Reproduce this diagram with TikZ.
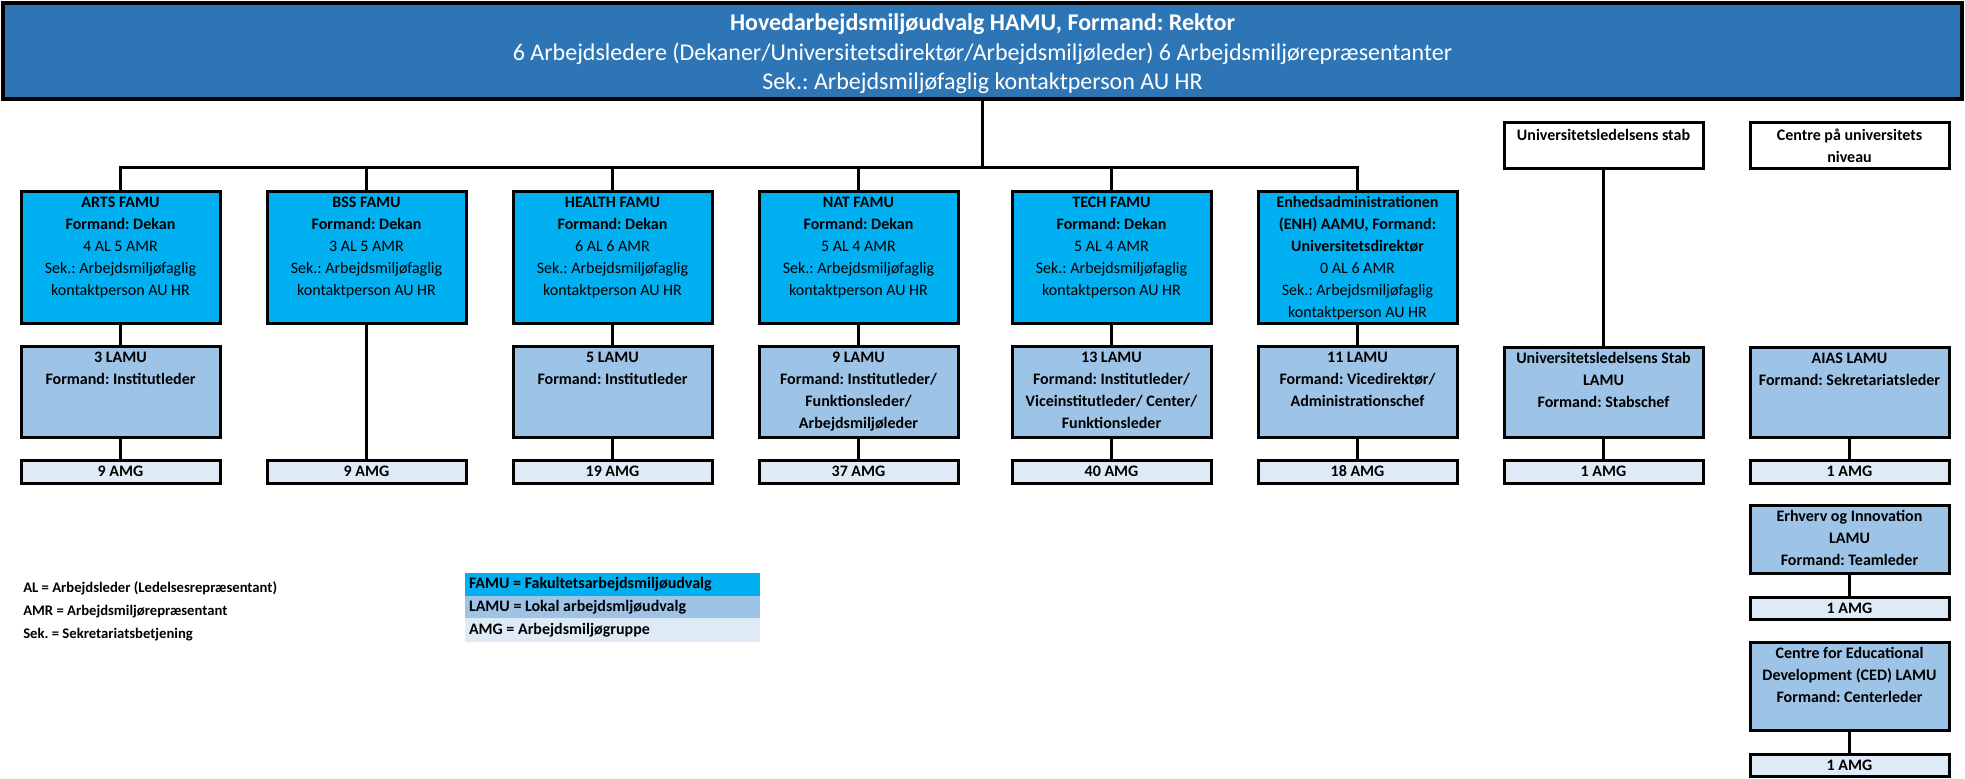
\documentclass[tikz,border=0pt]{standalone}
\usepackage{fontspec}
\setmainfont{Carlito}
\frenchspacing
\usetikzlibrary{fit,positioning,calc}
\definecolor{hamublue}{RGB}{46,117,182}
\definecolor{famublue}{RGB}{0,176,240}
\definecolor{lamublue}{RGB}{157,195,230}
\definecolor{amgblue}{RGB}{222,235,247}

\begin{document}
\begin{tikzpicture}[x=0.75pt,y=-0.75pt,
    box/.style={inner sep=0pt,draw,line width=2.25pt},
    famu/.style={box,fill=famublue}, lamu/.style={box,fill=lamublue},
    amg/.style={box,fill=amgblue},
    txt/.style={anchor=north,inner sep=0pt,align=center,
      font=\fontsize{12}{16.5}\selectfont},
    txtb/.style={txt,font=\fontsize{12}{16.5}\selectfont\bfseries},
    amgtxt/.style={inner sep=0pt,font=\fontsize{12}{16.5}\selectfont\bfseries},
    keytxt/.style={inner sep=0pt,font=\fontsize{12}{14}\selectfont\bfseries},
    link/.style={line width=2.25pt}]
  \useasboundingbox (0,0) rectangle (1965,778);

  % HAMU
  \node[fit={(3,3) (1962,99)}, box, line width=2.75pt, fill=hamublue] (hamu) {};
  \node[txt, text=white, font=\fontsize{18}{22}\selectfont] (hamu-t) at
  ($(hamu.north)+(0,9)$) {\strut\textbf{Hovedarbejdsmiljøudvalg HAMU, Formand:
      Rektor}\\ 6 Arbejdsledere (Dekaner/Universitetsdirektør/Arbejdsmiljøleder)
    6 Arbejdsmiljørepræsentanter\\ Sek.: Arbejdsmiljøfaglig kontaktperson AU HR};
  \coordinate (bar) at (hamu.south |- 0,167);

  % FAMU row
  \node[fit={(21,191) (220,323)}, famu] (arts) {}; \node[txt] (arts-t) at
  ($(arts.north)+(0,2)$) {\strut\textbf{ARTS FAMU}\\ \textbf{Formand: Dekan}\\ 4 AL
    5 AMR\\ Sek.: Arbejdsmiljøfaglig\\ kontaktperson AU HR};
  \node[fit={(267,191) (466,323)}, famu] (bss) {}; \node[txt] (bss-t) at
  ($(bss.north)+(0,2)$) {\strut\textbf{BSS FAMU}\\ \textbf{Formand: Dekan}\\ 3 AL
    5 AMR\\ Sek.: Arbejdsmiljøfaglig\\ kontaktperson AU HR};
  \node[fit={(513,191) (712,323)}, famu] (health) {}; \node[txt] (health-t) at
  ($(health.north)+(0,2)$) {\strut\textbf{HEALTH FAMU}\\ \textbf{Formand:
      Dekan}\\ 6 AL 6 AMR\\ Sek.: Arbejdsmiljøfaglig\\ kontaktperson AU HR};
  \node[fit={(759,191) (958,323)}, famu] (nat) {}; \node[txt] (nat-t) at
  ($(nat.north)+(0,2)$) {\strut\textbf{NAT FAMU}\\ \textbf{Formand: Dekan}\\ 5 AL
    4 AMR\\ Sek.: Arbejdsmiljøfaglig\\ kontaktperson AU HR};
  \node[fit={(1012,191) (1211,323)}, famu] (tech) {}; \node[txt] (tech-t) at
  ($(tech.north)+(0,2)$) {\strut\textbf{TECH FAMU}\\ \textbf{Formand: Dekan}\\ 5
    AL 4 AMR\\ Sek.: Arbejdsmiljøfaglig\\ kontaktperson AU HR};
  \node[fit={(1258,191) (1457,323)}, famu] (enh) {}; \node[txt] (enh-t) at
  ($(enh.north)+(0,2)$) {\strut\textbf{Enhedsadministrationen}\\ \textbf{(ENH)
      AAMU, Formand:}\\ \textbf{Universitetsdirektør}\\ 0 AL 6 AMR\\ Sek.:
    Arbejdsmiljøfaglig\\ kontaktperson AU HR};

  % LAMU row
  \node[fit={(21,346) (220,437)}, lamu] (arts-l) {}; \node[txtb] (arts-lt) at
  ($(arts-l.north)+(0,2)$) {\strut 3 LAMU\\ Formand: Institutleder};
  \node[fit={(513,346) (712,437)}, lamu] (health-l) {}; \node[txtb] (health-lt) at
  ($(health-l.north)+(0,2)$) {\strut 5 LAMU\\ Formand: Institutleder};
  \node[fit={(759,346) (958,437)}, lamu] (nat-l) {}; \node[txtb] (nat-lt) at
  ($(nat-l.north)+(0,2)$) {\strut 9 LAMU\\ Formand: Institutleder/\\
    Funktionsleder/\\ Arbejdsmiljøleder};
  \node[fit={(1012,346) (1211,437)}, lamu] (tech-l) {}; \node[txtb] (tech-lt) at
  ($(tech-l.north)+(0,2)$) {\strut 13 LAMU\\ Formand: Institutleder/\\
    Viceinstitutleder/ Center/\\ Funktionsleder};
  \node[fit={(1258,346) (1457,437)}, lamu] (enh-l) {}; \node[txtb] (enh-lt) at
  ($(enh-l.north)+(0,2)$) {\strut 11 LAMU\\ Formand: Vicedirektør/\\
    Administrationschef};

  % AMG row
  \node[fit={(21,460) (220,483)}, amg] (arts-a) {}; \node[amgtxt] (arts-at) at
  (arts-a.center) {9 AMG};
  \node[fit={(267,460) (466,483)}, amg] (bss-a) {}; \node[amgtxt] (bss-at) at
  (bss-a.center) {9 AMG};
  \node[fit={(513,460) (712,483)}, amg] (health-a) {}; \node[amgtxt] (health-at) at
  (health-a.center) {19 AMG};
  \node[fit={(759,460) (958,483)}, amg] (nat-a) {}; \node[amgtxt] (nat-at) at
  (nat-a.center) {37 AMG};
  \node[fit={(1012,460) (1211,483)}, amg] (tech-a) {}; \node[amgtxt] (tech-at) at
  (tech-a.center) {40 AMG};
  \node[fit={(1258,460) (1457,483)}, amg] (enh-a) {}; \node[amgtxt] (enh-at) at
  (enh-a.center) {18 AMG};

  % university level
  \node[fit={(1504,122) (1703,168)}, box] (stab) {}; \node[txtb] (stab-t) at
  ($(stab.north)+(0,4)$) {\strut Universitetsledelsens stab};
  \node[fit={(1504,347) (1703,437)}, lamu] (stab-l) {}; \node[txtb] (stab-lt) at
  ($(stab-l.north)+(0,2)$) {\strut Universitetsledelsens Stab\\ LAMU\\
    Formand: Stabschef};
  \node[fit={(1504,460) (1703,483)}, amg] (stab-a) {}; \node[amgtxt] (stab-at) at
  (stab-a.center) {1 AMG};

  \node[fit={(1750,122) (1949,168)}, box] (centre) {}; \node[txtb] (centre-t) at
  ($(centre.north)+(0,4)$) {\strut Centre på universitets\\ niveau};
  \node[fit={(1750,347) (1949,437)}, lamu] (aias) {}; \node[txtb] (aias-t) at
  ($(aias.north)+(0,2)$) {\strut AIAS LAMU\\ Formand: Sekretariatsleder};
  \node[fit={(1750,460) (1949,483)}, amg] (aias-a) {}; \node[amgtxt] (aias-at) at
  (aias-a.center) {1 AMG};
  \node[fit={(1750,505) (1949,573)}, lamu] (ei) {}; \node[txtb] (ei-t) at
  ($(ei.north)+(0,2)$) {\strut Erhverv og Innovation\\ LAMU\\ Formand:
    Teamleder};
  \node[fit={(1750,597) (1949,619)}, amg] (ei-a) {}; \node[amgtxt] (ei-at) at
  (ei-a.center) {1 AMG};
  \node[fit={(1750,642) (1949,730)}, lamu] (ced) {}; \node[txtb] (ced-t) at
  ($(ced.north)+(0,2)$) {\strut Centre for Educational\\ Development
    (CED) LAMU\\ Formand: Centerleder};
  \node[fit={(1750,754) (1949,776)}, amg] (ced-a) {}; \node[amgtxt] (ced-at) at
  (ced-a.center) {1 AMG};

  % connectors
  \draw[link] (hamu.south) -- (bar);
  \foreach \f in {arts,bss,health,nat,tech,enh} {\draw[link] (\f.north) |- (bar);}
  \foreach \f in {arts,health,nat,tech,enh} {\draw[link] (\f.south) --
    (\f-l.north); \draw[link] (\f-l.south) -- (\f-a.north);}
  \draw[link] (bss.south) -- (bss-a.north);
  \draw[link] (stab.south) -- (stab-l.north); \draw[link] (stab-l.south) --
  (stab-a.north);
  \draw[link] (aias.south) -- (aias-a.north); \draw[link] (ei.south) --
  (ei-a.north); \draw[link] (ced.south) -- (ced-a.north);

  % legend
  \node[anchor=north west, inner sep=0pt, align=left,
  font=\fontsize{11}{17.25}\selectfont\bfseries] (abbr) at (23,576) {\strut AL =
    Arbejdsleder (Ledelsesrepræsentant)\\ AMR = Arbejdsmiljørepræsentant\\ Sek. =
    Sekretariatsbetjening};
  \node[fit={(465,573) (760,596)}, inner sep=0pt, fill=famublue] (key-f) {};
  \node[fit={(465,596) (760,618)}, inner sep=0pt, fill=lamublue] (key-l) {};
  \node[fit={(465,618) (760,642)}, inner sep=0pt, fill=amgblue] (key-a) {};
  \node[right=3pt of key-f.west, keytxt] (key-ft) {FAMU =
    Fakultetsarbejdsmiljøudvalg};
  \node[right=3pt of key-l.west, keytxt] (key-lt) {LAMU = Lokal
    arbejdsmljøudvalg};
  \node[right=3pt of key-a.west, keytxt] (key-at) {AMG =
    Arbejdsmiljøgruppe};
\end{tikzpicture}
\end{document}
